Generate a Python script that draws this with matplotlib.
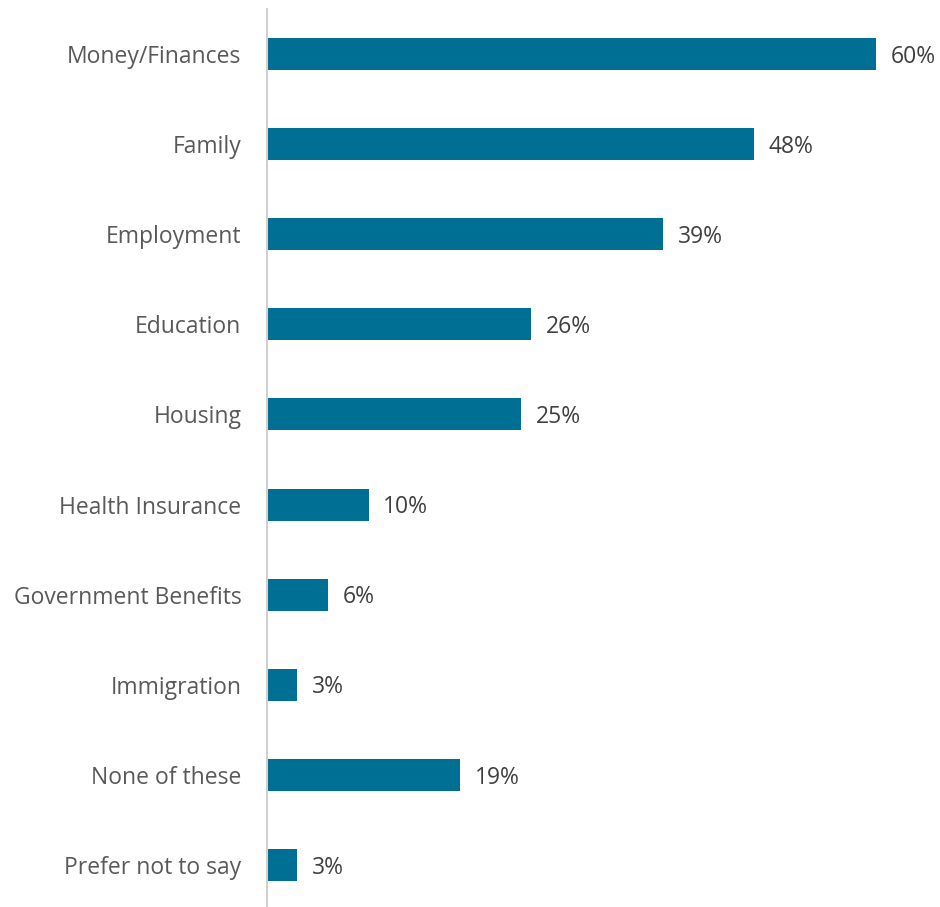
import matplotlib
matplotlib.use('Agg')
import matplotlib.pyplot as plt

categories = ['Money/Finances', 'Family', 'Employment', 'Education', 'Housing',
              'Health Insurance', 'Government Benefits', 'Immigration',
              'None of these', 'Prefer not to say']
values = [60, 48, 39, 26, 25, 10, 6, 3, 19, 3]

bar_color = '#006F94'
label_color = '#595959'
value_color = '#404040'

plt.rcParams['font.family'] = ['Open Sans', 'DejaVu Sans']

fig = plt.figure(figsize=(9.4, 9.07), dpi=100)
ax = fig.add_axes([267 / 940, -3 / 907, 673 / 940, 901 / 907])

y = list(range(len(categories)))
ax.barh(y, values, height=0.355, color=bar_color)

for yi, v in zip(y, values):
    ax.text(v + 1.45, yi + 0.03, f'{v}%', va='center', ha='left',
            fontsize=16.5, color=value_color)

ax.set_xlim(0, 673 / 10.15)
ax.set_ylim(len(categories) - 0.5, -0.5)
ax.set_yticks(y)
ax.set_yticklabels(categories, fontsize=16.5, color=label_color)
ax.tick_params(axis='y', length=0, pad=18.5)
ax.set_xticks([])

for side in ['top', 'right', 'bottom']:
    ax.spines[side].set_visible(False)
ax.spines['left'].set_color('#D0D0D0')
ax.spines['left'].set_linewidth(1.5)

fig.savefig('out.png', dpi=100)
